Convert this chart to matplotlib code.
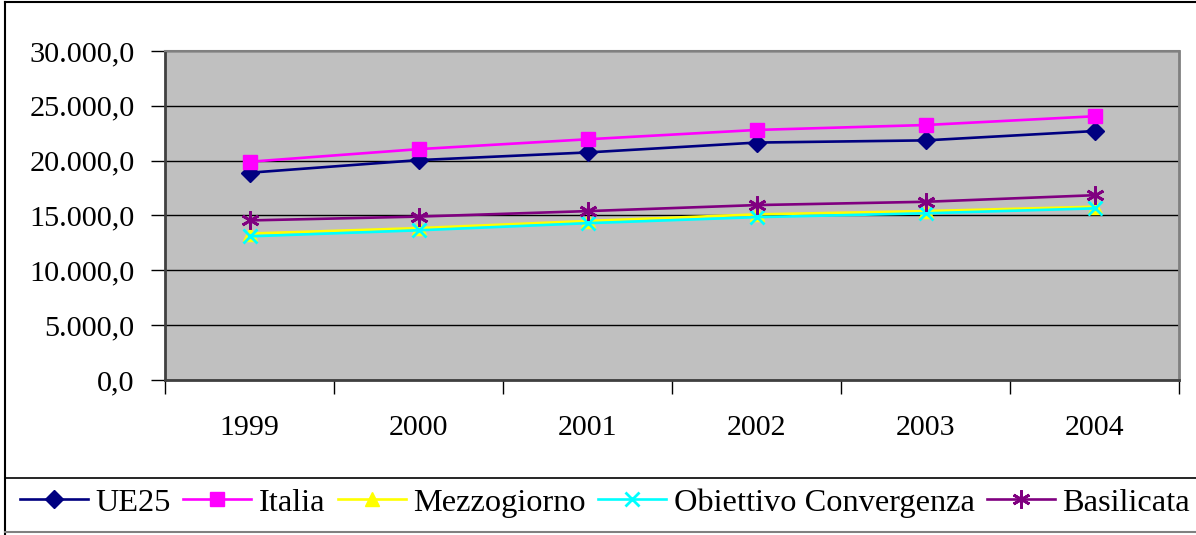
import matplotlib.pyplot as plt
from matplotlib.lines import Line2D
from matplotlib.ticker import FuncFormatter

plt.rcParams['font.family'] = ['Liberation Serif', 'DejaVu Serif']

years = ['1999', '2000', '2001', '2002', '2003', '2004']
ue25 = [18900, 20050, 20750, 21650, 21850, 22700]
italia = [19900, 21050, 21950, 22800, 23250, 24050]
mezzogiorno = [13350, 13850, 14500, 15100, 15400, 15800]
obiettivo = [13100, 13650, 14300, 14850, 15200, 15650]
basilicata = [14550, 14900, 15400, 15950, 16250, 16850]

series = [
    ('UE25', ue25, '#000080', 'D', 9),
    ('Italia', italia, '#FF00FF', 's', 10),
    ('Mezzogiorno', mezzogiorno, '#FFFF00', '^', 10),
    ('Obiettivo Convergenza', obiettivo, '#00FFFF', 'x', 10),
    ('Basilicata', basilicata, '#800080', (6, 2, 0), 13),
]

W, H = 1196, 535
fig = plt.figure(figsize=(W / 100, H / 100), dpi=100)
ax = fig.add_axes([165 / W, 1 - 380 / H, (1179 - 165) / W, (380 - 51) / H])
ax.set_facecolor('#C0C0C0')

x = list(range(len(years)))
for name, vals, col, mk, ms in series:
    mew = 2 if mk in ('x', (6, 2, 0)) else 1
    ax.plot(x, vals, color=col, marker=mk, markersize=ms, linewidth=1.9,
            markeredgewidth=mew, label=name)

ax.set_ylim(0, 30000)
ax.set_yticks(range(0, 30001, 5000))
ax.yaxis.set_major_formatter(FuncFormatter(
    lambda v, p: f"{v:,.1f}".replace(',', '#').replace('.', ',').replace('#', '.')))
ax.grid(axis='y', color='black', linewidth=1)
ax.set_axisbelow(True)

ax.set_xlim(-0.5, len(years) - 0.5)
ax.set_xticks(x)
ax.set_xticklabels(years)
ax.set_xticks([i - 0.5 for i in range(len(years) + 1)], minor=True)
ax.tick_params(axis='x', which='major', length=0, pad=25, labelsize=21.5)
ax.tick_params(axis='x', which='minor', length=10, width=1, direction='out')
ax.tick_params(axis='y', length=10, width=1, pad=12, labelsize=21.8)

ax.spines['left'].set_color('#404040')
ax.spines['left'].set_linewidth(2)
ax.spines['bottom'].set_color('#404040')
ax.spines['bottom'].set_linewidth(2)
ax.spines['top'].set_color('#808080')
ax.spines['top'].set_linewidth(1.5)
ax.spines['right'].set_color('#808080')
ax.spines['right'].set_linewidth(2)

# outer chart border and legend separator
fig.add_artist(Line2D([5 / W, 5 / W], [0, 1 - 2 / H], color='black', linewidth=1.5))
fig.add_artist(Line2D([5 / W, 1], [1 - 2 / H, 1 - 2 / H], color='black', linewidth=1.5))
fig.add_artist(Line2D([5 / W, 1], [1 - 478 / H, 1 - 478 / H], color='black', linewidth=1.2))
fig.add_artist(Line2D([5 / W, 1], [1 - 532 / H, 1 - 532 / H], color='#808080', linewidth=1.5))

fig.legend(loc='center', bbox_to_anchor=(605 / W, 1 - 503 / H), ncol=5, frameon=False,
           fontsize=23.3, handlelength=2.1, handletextpad=0.22, columnspacing=0.4,
           borderpad=0, borderaxespad=0)

fig.savefig('out.png', dpi=100)
